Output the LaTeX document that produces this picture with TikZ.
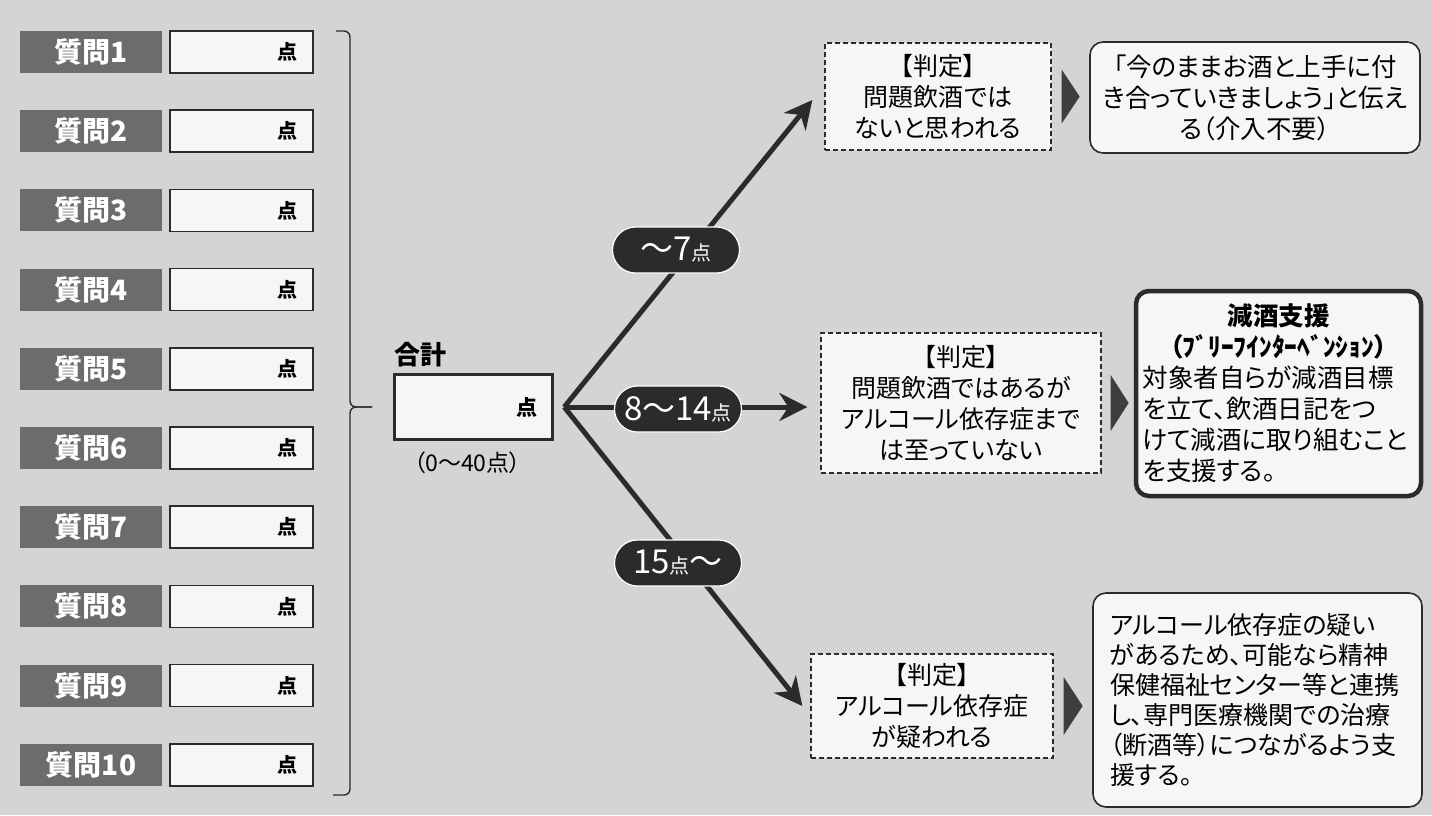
\documentclass[tikz,border=0pt]{standalone}
\usepackage{fontspec}
\setmainfont{Noto Sans CJK JP}[RawFeature=+palt]
\usetikzlibrary{positioning,arrows.meta,calc}
\definecolor{bg}{HTML}{D4D4D4}
\definecolor{qgray}{HTML}{6C6C6C}
\definecolor{ink}{HTML}{2B2B2B}
\definecolor{tri}{HTML}{3E3E3E}
\definecolor{paper}{HTML}{F6F6F6}
\newcommand{\fsz}[2]{\fontsize{#1}{#2}\selectfont}
\begin{document}
\begin{tikzpicture}[x=1pt, y=-1pt,
    qlabel/.style={fill=qgray, text=white, font=\fsz{28}{28}\bfseries,
      minimum width=142pt, minimum height=42pt, inner sep=0pt},
    score/.style={draw=ink, fill=paper, line width=1.5pt, minimum width=143pt,
      minimum height=42pt, inner sep=0pt, text width=112pt, align=right,
      font=\fsz{20}{20}\bfseries},
    brace/.style={draw=ink, line width=1.4pt, rounded corners=6pt},
    judge/.style={draw=ink, fill=paper, line width=1.3pt, dash pattern=on 5pt off 3pt,
      align=center, inner sep=0pt, font=\fsz{25}{31}},
    advice/.style={draw=ink, fill=paper, line width=1.6pt, rounded corners=13pt,
      inner sep=0pt, font=\fsz{25.5}{31}},
    pill/.style={fill=ink, draw=white, line width=1.2pt, rounded corners=23pt,
      minimum width=127pt, minimum height=46pt, inner sep=0pt, text=white,
      font=\fsz{33}{33}},
    arr/.style={draw=ink, line width=5pt, -{Stealth[length=28pt, width=28pt, inset=9pt]}}]
  \useasboundingbox (0,0) rectangle (1432,815);
  \fill[bg] (0,0) rectangle (1432,815);
  % questions
  \foreach \i in {1,...,10}{
    \node[qlabel] (q\i) at (91,{52+(\i-1)*79.2}) {質問\i};
    \node[score, right=7pt of q\i] (s\i) {点};
  }
  \draw[brace] (336,31) -- (350,31) -- (350,407) -- (372,407);
  \draw[brace] (372,407) -- (350,407) -- (350,795) -- (333,795);
  % total
  \node[draw=ink, line width=3.5pt, fill=paper, minimum width=158pt,
    minimum height=65pt] (sum) at (473.5,407) {};
  \node[anchor=south west, inner sep=0pt, font=\fsz{26}{26}\bfseries]
    (sumtitle) at ([xshift=2pt, yshift=6pt]sum.north west) {合計};
  \node[font=\fsz{21}{21}\bfseries] (sumpt) at ([xshift=-27pt]sum.east) {点};
  \node[below=10pt of sum, xshift=-6pt, inner sep=0pt, font=\fsz{23}{23}]
    (range) {（0〜40点）};
  \coordinate (fork) at ([xshift=10pt]sum.east);
  % judgements
  \node[judge, minimum width=226pt, minimum height=107pt] (j1) at (938,96.5)
    {【判定】\\問題飲酒では\\ないと思われる};
  \node[judge, minimum width=280pt, minimum height=140pt] (j2) at (961,403)
    {【判定】\\問題飲酒ではあるが\\アルコール依存症まで\\は至っていない};
  \node[judge, minimum width=242pt, minimum height=104pt] (j3) at (932,706)
    {【判定】\\アルコール依存症\\が疑われる};
  \draw[arr] (fork) -- ([xshift=-12pt, yshift=-3.5pt]j1.west);
  \draw[arr] (fork) -- ([xshift=-13pt]j2.west |- fork);
  \draw[arr] (fork) -- ([xshift=-8pt]j3.west);
  \node[pill] (p1) at (676,250) {〜7{\fsz{20}{20}点}};
  \node[pill] (p2) at (678,409) {8〜14{\fsz{20}{20}点}};
  \node[pill] (p3) at (678,563) {15{\fsz{20}{20}点}〜};
  % advice
  \node[advice, minimum width=330pt, minimum height=111pt, align=center]
    (a1) at (1255,97.5)
    {「今のままお酒と上手に付\\き合っていきましょう」と伝え\\る（介入不要）};
  \node[advice, line width=4.5pt, minimum width=285pt, minimum height=205pt,
    text width=272pt, align=left] (a2) at (1278.5,393.5)
    {{\centering\bfseries 減酒支援\par}
     {\centering\bfseries（ﾌﾞﾘｰﾌｲﾝﾀｰﾍﾞﾝｼｮﾝ）\par}
     対象者自らが減酒目標\\を立て、飲酒日記をつ\\けて減酒に取り組むこと\\を支援する。};
  \node[advice, minimum width=329pt, minimum height=214pt, text width=295pt,
    align=left, font=\fsz{25}{30}] (a3) at (1257.5,700)
    {アルコール依存症の疑い\\があるため、可能なら精神\\保健福祉センター等と連携\\し、専門医療機関での治療\\（断酒等）につながるよう支\\援する。};
  \fill[tri] ([xshift=10pt]j1.east) ++(0,-27) -- ++(18,27) -- ++(-18,27) -- cycle;
  \fill[tri] ([xshift=9pt]j2.east) ++(0,-28) -- ++(18,28) -- ++(-18,28) -- cycle;
  \fill[tri] ([xshift=10pt]j3.east) ++(0,-29) -- ++(19,29) -- ++(-19,29) -- cycle;
\end{tikzpicture}
\end{document}
